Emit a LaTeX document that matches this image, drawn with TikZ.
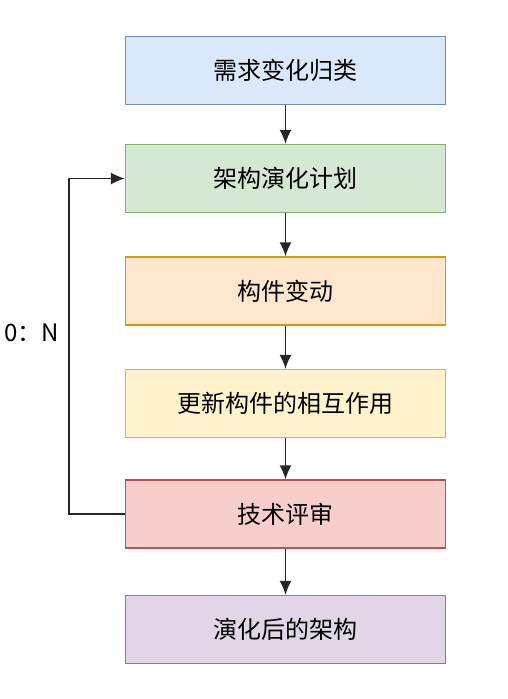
\documentclass[tikz,border=0pt]{standalone}
\usepackage{fontspec}
\setmainfont{Noto Sans CJK SC}
\usetikzlibrary{arrows.meta}
\usetikzlibrary{positioning}

\definecolor{bluefill}{HTML}{DAE8FC}\definecolor{blueline}{HTML}{6C8EBF}
\definecolor{greenfill}{HTML}{D5E8D4}\definecolor{greenline}{HTML}{82B366}
\definecolor{orangefill}{HTML}{FFE6CC}\definecolor{orangeline}{HTML}{D79B00}
\definecolor{yellowfill}{HTML}{FFF2CC}\definecolor{yellowline}{HTML}{D6B656}
\definecolor{redfill}{HTML}{F8CECC}\definecolor{redline}{HTML}{B85450}
\definecolor{purplefill}{HTML}{E1D5E7}\definecolor{purpleline}{HTML}{9673A6}

\tikzset{
  stepbox/.style={draw, line width=1.3pt, minimum width=320pt, minimum height=68pt,
    inner sep=0pt, font=\fontsize{24}{28}\selectfont},
  flow/.style={-{Latex[length=14pt,width=12pt]}, line width=1.5pt, draw=black!85}
}

\begin{document}
\begin{tikzpicture}[x=1pt,y=-1pt]
\useasboundingbox (0,0) rectangle (507,699);

\node [stepbox,fill=bluefill,draw=blueline] (classify) at (285.5,70.5) {需求变化归类};
\node [stepbox,fill=greenfill,draw=greenline] (plan) at (285.5,178.5) {架构演化计划};
\node [stepbox,fill=orangefill,draw=orangeline] (change) at (285.5,291) {构件变动};
\node [stepbox,fill=yellowfill,draw=yellowline] (update) at (285.5,403.5) {更新构件的相互作用};
\node [stepbox,fill=redfill,draw=redline] (review) at (285.5,514) {技术评审};
\node [stepbox,fill=purplefill,draw=purpleline] (result) at (285.5,629.5) {演化后的架构};

\draw [flow] (classify) -- (plan);
\draw [flow] (plan) -- (change);
\draw [flow] (change) -- (update);
\draw [flow] (update) -- (review);
\draw [flow] (review) -- (result);

% loop back
\coordinate (loopbot) at (69,514);
\coordinate (looptop) at (69,178.5);
\draw [flow] (review.west) -- (loopbot) -- (looptop) -- (plan.west);
\node [font=\fontsize{24}{28}\selectfont] (count) at (32,333) {0：N};
\end{tikzpicture}
\end{document}
